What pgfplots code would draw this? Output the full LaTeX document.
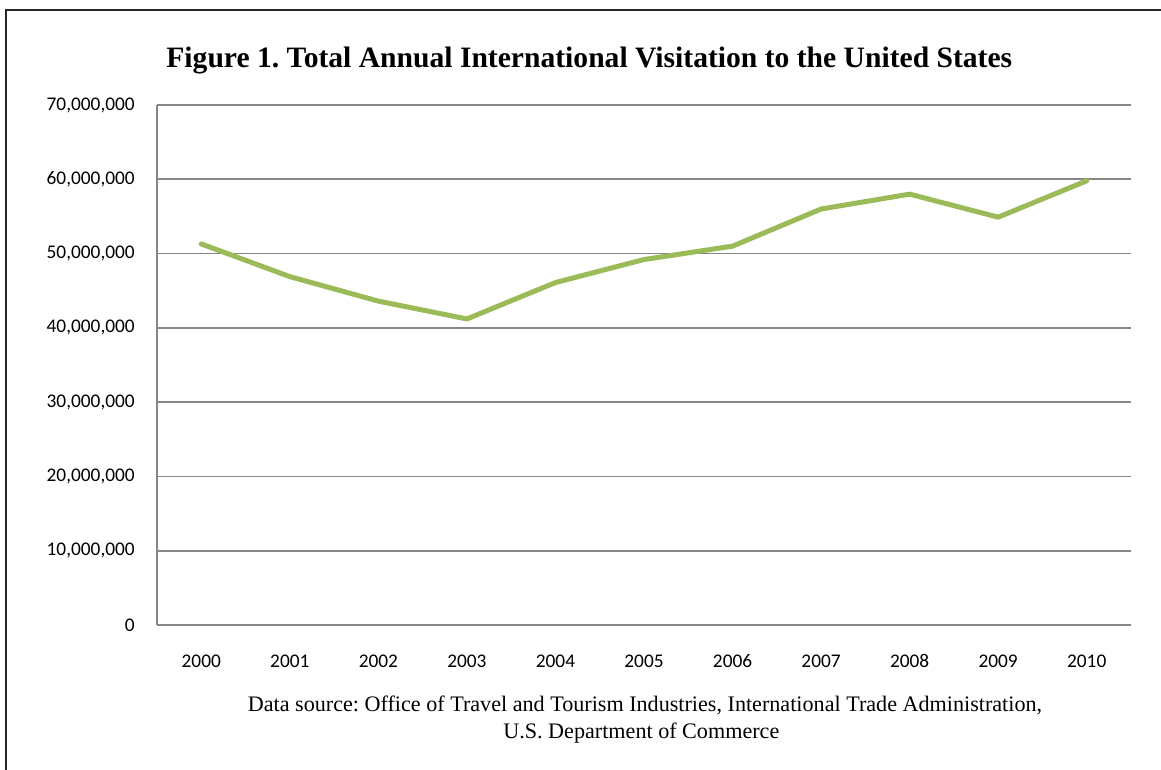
\documentclass[border=0pt]{standalone}
\usepackage{pgfplots}
\pgfplotsset{compat=1.18}
\usepackage{fontspec}
\setmainfont{Liberation Serif}
\newfontfamily\carlito{Carlito}

\definecolor{linegreen}{RGB}{155,187,89}
\definecolor{gridgray}{RGB}{134,134,134}

\begin{document}
\frenchspacing
\begin{tikzpicture}
    % picture frame: 1161 x 770 px at 0.75pt per px
    \useasboundingbox (0,0) rectangle (870.75pt,-577.5pt);
    \draw[line width=1.1pt, black!85] (4.5pt,-580pt) -- (4.5pt,-7.5pt) -- (875pt,-7.5pt);

    \node[anchor=base, font=\fontsize{22.2}{26}\selectfont\bfseries]
        at (442pt,-51pt) {Figure 1. Total Annual International Visitation to the United States};

    \begin{axis}[
        at={(117.75pt,-468.75pt)},
        anchor=south west,
        scale only axis,
        width=730.5pt,
        height=390pt,
        xmin=1999.5, xmax=2010.5,
        ymin=0, ymax=70000000,
        axis lines=left,
        axis line style={-, gridgray, line width=1.3pt},
        xtick={2000,2001,2002,2003,2004,2005,2006,2007,2008,2009,2010},
        xticklabels={2000,2001,2002,2003,2004,2005,2006,2007,2008,2009,2010},
        ytick={0,10000000,20000000,30000000,40000000,50000000,60000000,70000000},
        yticklabels={0,{10,000,000},{20,000,000},{30,000,000},{40,000,000},{50,000,000},{60,000,000},{70,000,000}},
        scaled y ticks=false,
        major tick length=0pt,
        ymajorgrids,
        grid style={gridgray, line width=1.3pt},
        tick label style={font=\fontsize{14.5}{17}\carlito, inner sep=0pt},
        yticklabel style={anchor=east, xshift=-16.5pt},
        xticklabel style={anchor=base, yshift=-31.5pt},
        clip=false,
    ]
        \addplot[linegreen, line width=3.75pt, line cap=round, line join=round]
        coordinates {
            (2000, 51300000) (2001, 46900000) (2002, 43600000) (2003, 41200000)
            (2004, 46100000) (2005, 49200000) (2006, 51000000) (2007, 56000000)
            (2008, 58000000) (2009, 54900000) (2010, 59800000)
        };
    \end{axis}

    \node[anchor=base, font=\fontsize{16.6}{19}\selectfont]
        at (483.75pt,-533.25pt) {Data source: Office of Travel and Tourism Industries, International Trade Administration,};
    \node[anchor=base, font=\fontsize{16.6}{19}\selectfont]
        at (481pt,-553.5pt) {U.S. Department of Commerce};
\end{tikzpicture}
\end{document}
